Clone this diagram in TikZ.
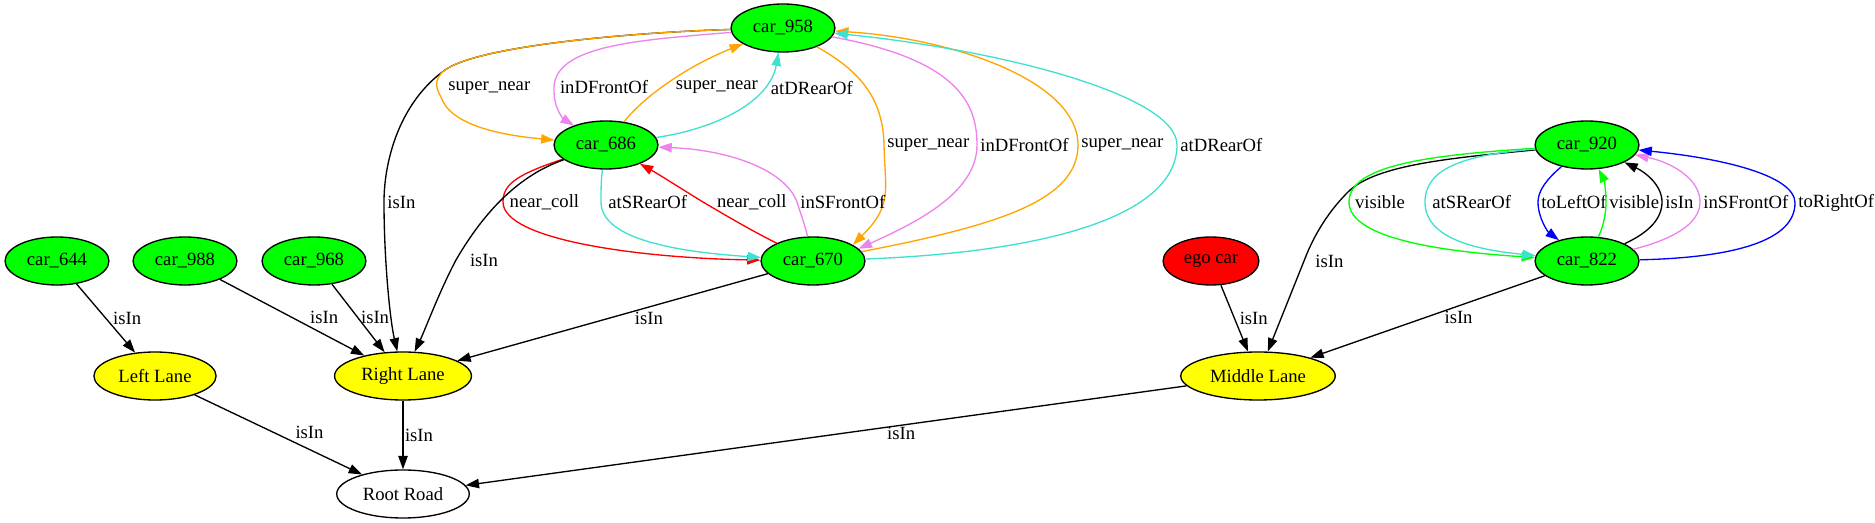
\documentclass[tikz,border=0pt]{standalone}
\usepackage{fontspec}
\setmainfont{Liberation Serif}
\usepackage{xcolor}
\usepackage{tikz}
\usetikzlibrary{shapes.geometric, arrows.meta}

\definecolor{gvgreen}{HTML}{00FF00}
\definecolor{gvyellow}{HTML}{FFFF00}
\definecolor{gvred}{HTML}{FF0000}
\definecolor{gvorange}{HTML}{FFA500}
\definecolor{gvviolet}{HTML}{EE82EE}
\definecolor{gvturq}{HTML}{40E0D0}
\definecolor{gvblue}{HTML}{0000FF}

\tikzset{
  obj/.style={ellipse, draw, line width=1pt, minimum height=36pt, inner xsep=5pt, inner ysep=0pt, font=\fontsize{14pt}{16pt}\selectfont},
  car/.style={obj, fill=gvgreen},
  lane/.style={obj, fill=gvyellow},
  rel/.style={line width=1pt, -{Triangle[length=10pt, width=7pt]}},
  lbl/.style={anchor=west, inner sep=2pt, text=black, font=\fontsize{14pt}{16pt}\selectfont},
}

\begin{document}
\begin{tikzpicture}[x=0.75pt, y=-0.75pt]
  \useasboundingbox (0,0) rectangle (1875,523);

  % Cars
  \node[car] (c958) at (783,28) {car\_958};
  \node[car] (c686) at (606,145) {car\_686};
  \node[car] (c670) at (813,261) {car\_670};
  \node[car] (c920) at (1587,145) {car\_920};
  \node[car] (c822) at (1587,261) {car\_822};
  \node[car] (c644) at (57,261) {car\_644};
  \node[car] (c988) at (185,261) {car\_988};
  \node[car] (c968) at (314,261) {car\_968};
  \node[obj, fill=gvred] (ego) at (1211,261) {ego car};

  % Lanes and road
  \node[lane] (leftlane) at (155,376) {Left Lane};
  \node[lane] (rightlane) at (403,376) {Right Lane};
  \node[lane] (midlane) at (1258,376) {Middle Lane};
  \node[obj] (root) at (403,494) {Root Road};

  % Straight isIn edges
  \draw[rel] (c644) -- node[lbl, pos=0.5, xshift=3pt] {isIn} (leftlane);
  \draw[rel] (c988) -- node[lbl, pos=0.5, xshift=11pt] {isIn} (rightlane);
  \draw[rel] (c968) -- node[lbl, pos=0.49] {isIn} (rightlane);
  \draw[rel] (c670) -- node[lbl, pos=0.51, xshift=16.5pt] {isIn} (rightlane);
  \draw[rel] (leftlane) -- node[lbl, pos=0.475, xshift=13.5pt] {isIn} (root);
  \draw[rel] (rightlane) -- node[lbl, pos=0.5, xshift=-1pt] {isIn} (root);
  \draw[rel] (midlane) -- node[lbl, pos=0.42, yshift=-4pt] {isIn} (root);
  \draw[rel] (ego) -- node[lbl, pos=0.5, xshift=1.5pt] {isIn} (midlane);
  \draw[rel] (c822) -- node[lbl, pos=0.51, xshift=12pt] {isIn} (midlane);

  % car_958 <-> car_686
  \draw[rel] (c958) .. controls (640,32) and (480,45) .. (445,70) .. controls (400,102) and (384,160) .. (384,202) node[lbl] {isIn} .. controls (384,260) and (390,320) .. (rightlane);
  \draw[rel, gvorange] (c958) .. controls (640,32) and (480,45) .. (445,70) .. controls (432,80) and (437,90) .. (441,97) node[lbl, xshift=3pt, yshift=7pt] {super\_near} .. controls (450,125) and (500,135) .. (c686);
  \draw[rel, gvviolet] (c958) .. controls (640,40) and (556,45) .. (554,87) node[lbl, xshift=2pt] {inDFrontOf} .. controls (553,110) and (565,120) .. (c686);
  \draw[rel, gvorange] (c686) .. controls (645,95) and (690,65) .. (c958) node[lbl, pos=0.42, xshift=8pt] {super\_near};
  \draw[rel, gvturq] (c686) .. controls (720,128) and (770,100) .. (c958) node[lbl, pos=0.72, xshift=4pt] {atDRearOf};

  % car_958 <-> car_670
  \draw[rel, gvorange] (c958) .. controls (862,72) and (883,100) .. (884,145) node[lbl] {super\_near} .. controls (885,190) and (893,205) .. (c670.22);
  \draw[rel, gvviolet] (c958) .. controls (960,60) and (977,105) .. (977,145) node[lbl] {inDFrontOf} .. controls (977,195) and (910,225) .. (c670.15);
  \draw[rel, gvorange] (c670) .. controls (1000,225) and (1078,200) .. (1078,145) node[lbl] {super\_near} .. controls (1078,80) and (950,38) .. (c958);
  \draw[rel, gvturq] (c670) .. controls (1050,252) and (1177,215) .. (1177,145) node[lbl] {atDRearOf} .. controls (1177,95) and (1000,50) .. (c958);

  % car_686 <-> car_670
  \draw[rel, gvred] (c686) .. controls (515,175) and (503,185) .. (503,202) node[lbl, xshift=2.5pt] {near\_coll} .. controls (503,240) and (640,258) .. (c670);
  \draw[rel, gvturq] (c686) .. controls (601,180) and (601,190) .. (601,202) node[lbl, xshift=3pt] {atSRearOf} .. controls (601,240) and (680,252) .. (c670);
  \draw[rel, gvred] (c670) .. controls (750,230) and (720,212) .. (703,202) node[lbl, xshift=8pt] {near\_coll} .. controls (680,188) and (660,175) .. (c686);
  \draw[rel, gvviolet] (c670) .. controls (805,225) and (800,212) .. (797,202) node[lbl] {inSFrontOf} .. controls (785,170) and (730,150) .. (c686);
  \draw[rel] (c686) .. controls (520,175) and (485,210) .. (456,260) node[lbl, xshift=8pt] {isIn} .. controls (440,290) and (425,330) .. (rightlane);

  % car_920 <-> car_822
  \draw[rel] (c920) .. controls (1450,158) and (1375,165) .. (1348,192) .. controls (1325,215) and (1312,240) .. (1304,261) node[lbl, xshift=6pt] {isIn} -- (midlane);
  \draw[rel, gvgreen] (c920) .. controls (1430,155) and (1349,165) .. (1349,202) node[lbl, xshift=2pt] {visible} .. controls (1349,240) and (1450,252) .. (c822);
  \draw[rel, gvturq] (c920) .. controls (1460,155) and (1425,170) .. (1425,202) node[lbl, xshift=3pt] {atSRearOf} .. controls (1425,240) and (1480,250) .. (c822);
  \draw[rel, gvblue] (c920) .. controls (1548,178) and (1538,190) .. (1538,202) node[lbl] {toLeftOf} .. controls (1538,218) and (1548,232) .. (c822);
  \draw[rel, gvgreen] (c822) .. controls (1604,225) and (1606,212) .. (1606,202) node[lbl] {visible} .. controls (1606,190) and (1604,180) .. (c920);
  \draw[rel] (c822) .. controls (1650,232) and (1662,218) .. (1662,202) node[lbl] {isIn} .. controls (1662,185) and (1645,172) .. (c920);
  \draw[rel, gvviolet] (c822) .. controls (1670,240) and (1700,225) .. (1700,202) node[lbl] {inSFrontOf} .. controls (1700,178) and (1670,162) .. (c920);
  \draw[rel, gvblue] (c822) .. controls (1720,258) and (1795,245) .. (1795,203) node[lbl] {toRightOf} .. controls (1795,175) and (1720,158) .. (c920);
\end{tikzpicture}
\end{document}
